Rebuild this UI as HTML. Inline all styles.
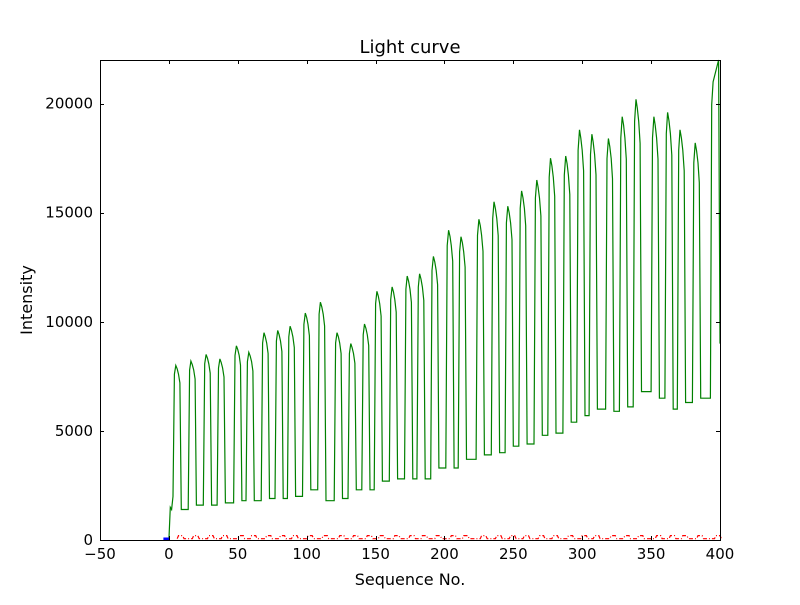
<!DOCTYPE html>
<html><head><meta charset="utf-8"><style>
body{margin:0;background:#fff;}
svg text{font-family:"DejaVu Sans","Liberation Sans",sans-serif;fill:#000;}
</style></head><body>
<svg id="chart" width="800" height="600" viewBox="0 0 800 600" xmlns="http://www.w3.org/2000/svg">
<rect width="800" height="600" fill="#fff"/>
<g id="plot"></g>
<rect x="100.5" y="60.5" width="620" height="480" fill="none" stroke="#000" stroke-width="1"/>
<g id="ticks"></g>
<text x="410" y="53" font-size="18" text-anchor="middle">Light curve</text>
<text x="410" y="585" font-size="16" text-anchor="middle">Sequence No.</text>
<text x="32" y="300" font-size="16" text-anchor="middle" transform="rotate(-90 32 300)">Intensity</text>
</svg>
<script>
const xTicks=[-50,0,50,100,150,200,250,300,350,400];
const yTicks=[0,5000,10000,15000,20000];
const riseX=[3,14,25,35,47,56,67,77,86,97,108,120,130,140,149,160,171,180,190,201,210,223,234,244,254,265,275,286,296,305,317,327,337,350,360,369,380,393];
const peakVals=[8000,8200,8500,8300,8900,8600,9500,9600,9800,10400,10900,9500,9000,9900,11400,11600,12100,12200,13000,14200,13900,14700,15500,15300,16000,16500,17500,17600,18800,18600,18400,19400,20200,19400,19600,18800,18200,21000];
const lowVals=[1400,1400,1600,1600,1700,1800,1800,1900,1900,2000,2300,1800,1900,2300,2300,2700,2800,2800,2800,3300,3300,3700,3900,4000,4300,4400,4800,4900,5400,5700,6000,5900,6100,6800,6500,6000,6300,6500,6500];
const startX=[0,1,2,3];
const startY=[0,1500,1400,2000];
const endX=[399,400];
const endY=[22000,9000];
const blueX=[-4,0];
const blueY=[0,0];
const redLevels=[60,200];

const X0=100,X1=720,Y0=540,Y1=60;
const sx=v=>X0+(v-(-50))/(450)*(X1-X0);
const sy=v=>Y0-(v/22000)*(Y0-Y1);
const NS="http://www.w3.org/2000/svg";
const plot=document.getElementById('plot');
const ticks=document.getElementById('ticks');

let gx=startX.slice(),gy=startY.slice();
for(let i=0;i<riseX.length;i++){
  const r=riseX[i],p=peakVals[i];
  if(i>0){gx.push(r);gy.push(lowVals[i]);}
  const last=(i===riseX.length-1);
  gx.push(r+1);gy.push(p*0.95);
  gx.push(r+2);gy.push(p);
  if(!last){
    gx.push(r+3);gy.push(p*0.98);
    gx.push(r+4);gy.push(p*0.95);
    gx.push(r+5);gy.push(p*0.9);
    gx.push(r+6);gy.push(lowVals[i+1]);
  }
}
for(let i=0;i<endX.length;i++){gx.push(endX[i]);gy.push(endY[i]);}
const gpts=gx.map((v,i)=>sx(v).toFixed(1)+','+sy(gy[i]).toFixed(1)).join(' ');
const g=document.createElementNS(NS,'polyline');


g.setAttribute('points',gpts);g.setAttribute('fill','none');g.setAttribute('stroke','#008000');g.setAttribute('stroke-width','1.2');
plot.appendChild(g);

let rx=[],ry=[];
for(let i=0;i<riseX.length;i++){
  const r=riseX[i]+3;
  rx.push(r);ry.push(redLevels[0]);
  rx.push(r+1);ry.push(redLevels[1]);
  rx.push(r+4);ry.push(redLevels[1]);
  rx.push(r+5);ry.push(redLevels[0]);
}
const rp=document.createElementNS(NS,'polyline');


rp.setAttribute('points',rx.map((v,i)=>sx(v).toFixed(1)+','+sy(ry[i]).toFixed(1)).join(' '));
rp.setAttribute('fill','none');rp.setAttribute('stroke','#ff0000');rp.setAttribute('stroke-width','1.2');rp.setAttribute('stroke-dasharray','4,2,1,2');
plot.appendChild(rp);

const bl=document.createElementNS(NS,'polyline');


bl.setAttribute('points',blueX.map((v,i)=>sx(v).toFixed(1)+','+(sy(blueY[i])-1).toFixed(1)).join(' '));
bl.setAttribute('fill','none');bl.setAttribute('stroke','#0000ff');bl.setAttribute('stroke-width','3');
plot.appendChild(bl);

xTicks.forEach(t=>{
  const x=Math.round(sx(t))+0.5;
  const l=document.createElementNS(NS,'path');
  
  
  l.setAttribute('d',`M${x},540 v-4 M${x},60 v4`);l.setAttribute('stroke','#000');
  ticks.appendChild(l);
  const tx=document.createElementNS(NS,'text');
  
  
  tx.setAttribute('x',sx(t));tx.setAttribute('y',559);tx.setAttribute('font-size','15');tx.setAttribute('text-anchor','middle');
  tx.textContent=(t<0?'\u2212'+Math.abs(t):t);
  ticks.appendChild(tx);
});
yTicks.forEach(t=>{
  const y=Math.round(sy(t))+0.5;
  const l=document.createElementNS(NS,'path');
  
  
  l.setAttribute('d',`M100,${y} h4 M720,${y} h-4`);l.setAttribute('stroke','#000');
  ticks.appendChild(l);
  const tx=document.createElementNS(NS,'text');
  
  
  tx.setAttribute('x',93);tx.setAttribute('y',sy(t)+5);tx.setAttribute('font-size','15');tx.setAttribute('text-anchor','end');
  tx.textContent=t;
  ticks.appendChild(tx);
});
</script>
</body></html>
